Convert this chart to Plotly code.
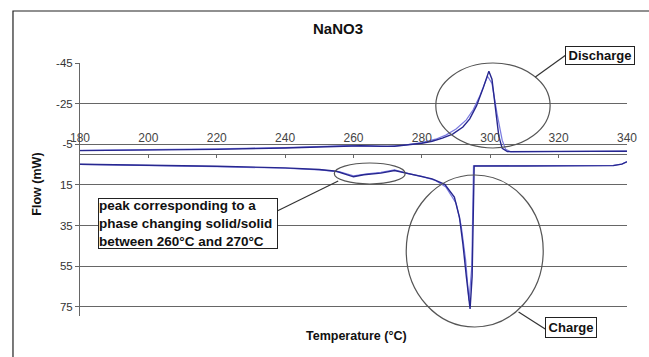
import plotly.graph_objects as go

# ---------------- data ----------------
discharge1_T = [180, 200, 220, 240, 250, 255, 262, 268, 272, 276, 280, 283, 286, 289, 292, 294, 296, 298, 299.6, 300.5, 301.5, 302.5, 303.5, 305, 320, 335, 340]
discharge1_V = [-1.9, -2.2, -2.5, -3.2, -3.8, -4.2, -4.3, -4.0, -4.0, -4.8, -5.5, -6.5, -8.0, -10.0, -13.5, -17.5, -24, -33, -41, -37, -22, -9, -3, -1.4, -1.5, -1.5, -1.6]

discharge2_T = [180, 200, 220, 240, 250, 258, 265, 270, 275, 280, 284, 287, 290, 293, 295, 297, 299.2, 300.5, 302, 303.5, 304.5, 306, 320, 340]
discharge2_V = [-2.0, -2.3, -2.7, -3.4, -3.9, -4.3, -4.1, -3.9, -4.6, -5.8, -7.5, -9.5, -12.5, -17, -22, -29, -38.5, -35, -20, -7, -2.5, -1.3, -1.4, -1.6]

charge1_T = [180, 200, 220, 240, 250, 255, 258, 260, 263, 268, 272, 275, 279, 283, 286.7, 289.5, 291, 292, 293, 294.1, 294.7, 295.3, 310, 330, 336, 338.5, 340]
charge1_V = [4.8, 5.2, 5.8, 6.6, 7.4, 8.3, 9.8, 11, 10, 9.2, 7.9, 9.0, 10.3, 12, 14.7, 21, 31, 44, 60, 76, 60, 5.7, 5.7, 5.7, 5.5, 4.8, 3.6]

charge2_T = [180, 200, 220, 240, 250, 256, 260, 264, 268, 272, 276, 280, 284, 287, 290, 291.5, 292.8, 293.8, 294.6, 295.1, 310, 330, 336, 338.5, 340]
charge2_V = [4.9, 5.4, 6.0, 6.8, 7.6, 8.6, 10.5, 9.6, 8.8, 7.6, 9.4, 10.8, 12.8, 16, 24, 35, 52, 72, 55, 5.6, 5.6, 5.6, 5.4, 4.7, 3.5]

x_ticks = [180, 200, 220, 240, 260, 280, 300, 320, 340]
y_ticks = [-45, -25, -5, 15, 35, 55, 75]

title_text = "NaNO3"
x_title = "Temperature (°C)"
y_title = "Flow (mW)"
note_text = "peak corresponding to a<br>phase changing solid/solid<br>between 260°C and 270°C"

# ---------------- layout geometry ----------------
W, H = 649, 357
ML, MR, MT, MB = 80, 14, 63, 41
PW, PH = W - ML - MR, H - MT - MB
Y_LO, Y_HI = 79.5, -45


def fx(px):
    return (px - ML) / PW


def fy(py):
    return (H - MB - py) / PH


DARK = "#27278f"
LIGHT = "#7b7be0"

fig = go.Figure()
fig.add_trace(go.Scatter(x=discharge2_T, y=discharge2_V, mode="lines", line=dict(color=LIGHT, width=1.2), showlegend=False))
fig.add_trace(go.Scatter(x=charge2_T, y=charge2_V, mode="lines", line=dict(color=LIGHT, width=1.2), showlegend=False))
fig.add_trace(go.Scatter(x=discharge1_T, y=discharge1_V, mode="lines", line=dict(color=DARK, width=1.4), showlegend=False))
fig.add_trace(go.Scatter(x=charge1_T, y=charge1_V, mode="lines", line=dict(color=DARK, width=1.4), showlegend=False))

GRID = "#666666"
FONT = "Liberation Sans, Arial, sans-serif"

fig.update_layout(
    width=W, height=H,
    margin=dict(l=ML, r=MR, t=MT, b=MB),
    paper_bgcolor="white", plot_bgcolor="white",
    font=dict(family=FONT, color="#333333", size=12),
    xaxis=dict(
        range=[180, 340], tickvals=x_ticks, ticktext=[str(v) for v in x_ticks],
        showgrid=False, zeroline=False, showline=True, linecolor=GRID, linewidth=1,
        anchor="free", position=Y_LO / (Y_LO - Y_HI), side="top",
        ticks="inside", ticklen=3, tickcolor=GRID, ticklabelstandoff=8,
        tickfont=dict(size=12, color="#444444"),
    ),
    yaxis=dict(
        range=[Y_LO, Y_HI], tickvals=y_ticks, ticktext=[str(v) for v in y_ticks],
        showgrid=True, gridcolor=GRID, gridwidth=1, zeroline=False,
        showline=True, linecolor=GRID, linewidth=1,
        ticks="outside", ticklen=4, tickcolor=GRID,
        tickfont=dict(size=11.5, color="#333333"),
    ),
)

shapes = []
# outer frame
shapes.append(dict(type="rect", xref="paper", yref="paper", x0=fx(12), x1=fx(700), y0=fy(11), y1=fy(400),
                   line=dict(color="#222222", width=1.2), layer="below"))
# ellipses
for (x0, x1, y0, y1) in [(441, 557, 63, 148), (411, 550, 175, 327), (338, 410, 163, 184)]:
    shapes.append(dict(type="circle", xref="paper", yref="paper", x0=fx(x0), x1=fx(x1), y0=fy(y1), y1=fy(y0),
                       line=dict(color="#555555", width=1.2), layer="above"))
# connectors
for (x0, y0, x1, y1) in [(573, 55, 542, 77), (525, 312, 552, 329), (278, 212, 342, 181)]:
    shapes.append(dict(type="line", xref="paper", yref="paper", x0=fx(x0), y0=fy(y0), x1=fx(x1), y1=fy(y1),
                       line=dict(color="#333333", width=1.2), layer="above"))
fig.update_layout(shapes=shapes)

annots = []
annots.append(dict(text="<b>" + title_text + "</b>", x=fx(342), y=fy(28.5), xref="paper", yref="paper",
                   xanchor="center", yanchor="middle",
                   showarrow=False, font=dict(size=15, color="#111111", family=FONT)))
annots.append(dict(text="<b>" + x_title + "</b>", x=fx(361), y=fy(336), xref="paper", yref="paper",
                   xanchor="center", yanchor="middle",
                   showarrow=False, font=dict(size=12.5, color="#111111", family=FONT)))
annots.append(dict(text="<b>" + y_title + "</b>", x=fx(36), y=fy(184), xref="paper", yref="paper",
                   xanchor="center", yanchor="middle",
                   showarrow=False, textangle=-90, font=dict(size=12.5, color="#111111", family=FONT)))
annots.append(dict(text="<b>Discharge</b>", x=fx(572), y=fy(46), xref="paper", yref="paper",
                   xanchor="left", yanchor="top", showarrow=False, width=68, height=17,
                   bgcolor="white", bordercolor="#222222", borderwidth=1, borderpad=0,
                   font=dict(size=13, color="#111111", family=FONT)))
annots.append(dict(text="<b>Charge</b>", x=fx(552), y=fy(317), xref="paper", yref="paper",
                   xanchor="left", yanchor="top", showarrow=False, width=50, height=19,
                   bgcolor="white", bordercolor="#222222", borderwidth=1, borderpad=0,
                   font=dict(size=13, color="#111111", family=FONT)))
annots.append(dict(text="<b>" + note_text + "</b>", x=fx(98), y=fy(198), xref="paper", yref="paper",
                   xanchor="left", yanchor="top", showarrow=False, width=178, height=49, align="left",
                   bgcolor="white", bordercolor="#222222", borderwidth=1, borderpad=0,
                   font=dict(size=13.5, color="#111111", family=FONT)))
fig.update_layout(annotations=annots)

fig.write_html("out.html", config={"displayModeBar": False},
               post_script="document.body.style.margin='0';document.body.style.overflow='hidden';")
